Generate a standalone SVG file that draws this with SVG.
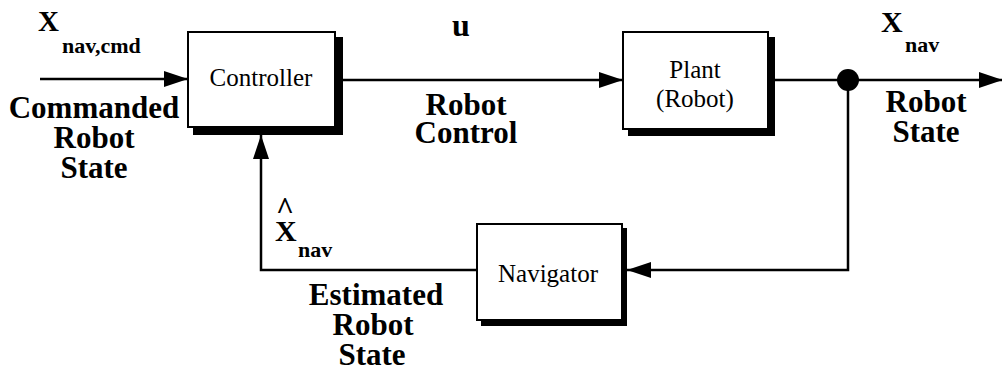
<svg xmlns="http://www.w3.org/2000/svg" width="1002" height="374" viewBox="0 0 1002 374">
  <style>
    .bg { fill: #ffffff; }
    .box { fill: #ffffff; stroke: #000000; stroke-width: 2; }
    .shadow { fill: #000000; }
    .wire { fill: none; stroke: #000000; stroke-width: 2.5; }
    .node-label { font-family: "Liberation Serif", "Times New Roman", serif; font-size: 25px; fill: #000000; text-anchor: middle; }
    .signal { font-family: "Liberation Serif", "Times New Roman", serif; font-size: 31px; font-weight: bold; fill: #000000; text-anchor: middle; }
    .sym { font-family: "Liberation Serif", "Times New Roman", serif; font-weight: bold; fill: #000000; }
  </style>
  <defs>
    <marker id="arrow" markerUnits="userSpaceOnUse" markerWidth="26" markerHeight="18" refX="24" refY="8" orient="auto">
      <path d="M0,0 L24,8 L0,16 Z" fill="#000000"/>
    </marker>
  </defs>

  <rect class="bg" x="0" y="0" width="1002" height="374"/>

  <!-- connectors -->
  <g id="connectors">
    <path class="wire" d="M40,79 H188" marker-end="url(#arrow)"/>
    <path class="wire" d="M343,80 H623" marker-end="url(#arrow)"/>
    <path class="wire" d="M775,80 H1003" marker-end="url(#arrow)"/>
    <path class="wire" d="M848,80 V270 H627" marker-end="url(#arrow)"/>
    <path class="wire" d="M477,270 H261 V135" marker-end="url(#arrow)"/>
    <circle cx="848" cy="80" r="11" fill="#000000"/>
  </g>

  <!-- controller block -->
  <g id="controller">
    <rect class="shadow" x="193" y="37" width="150" height="98"/>
    <rect class="box" x="188" y="32" width="147" height="95"/>
    <text class="node-label" x="261" y="86" font-size="26">Controller</text>
  </g>

  <!-- plant block -->
  <g id="plant">
    <rect class="shadow" x="628" y="37" width="147" height="99"/>
    <rect class="box" x="623" y="32" width="145" height="97"/>
    <text class="node-label" x="695" y="78" font-size="24">Plant</text>
    <text class="node-label" x="695" y="107" font-size="24">(Robot)</text>
  </g>

  <!-- navigator block -->
  <g id="navigator">
    <rect class="shadow" x="481" y="228" width="146" height="98"/>
    <rect class="box" x="477" y="224" width="145" height="96"/>
    <text class="node-label" x="548" y="282">Navigator</text>
  </g>

  <!-- signal symbols -->
  <g id="symbols">
    <text class="sym" x="38" y="31" font-size="29">X</text>
    <text class="sym" x="62" y="53" font-size="22">nav,cmd</text>
    <text class="sym" x="452" y="36" font-size="32">u</text>
    <text class="sym" x="881" y="32" font-size="30">X</text>
    <text class="sym" x="905" y="52" font-size="22">nav</text>
    <text class="sym" x="276" y="219" font-size="31">^</text>
    <text class="sym" x="275" y="241" font-size="30">X</text>
    <text class="sym" x="298" y="257" font-size="22">nav</text>
  </g>

  <!-- signal descriptions -->
  <g id="labels">
    <text class="signal" x="94" y="118">Commanded</text>
    <text class="signal" x="94" y="148">Robot</text>
    <text class="signal" x="94" y="178">State</text>
    <text class="signal" x="466" y="115">Robot</text>
    <text class="signal" x="466" y="143">Control</text>
    <text class="signal" x="926" y="112">Robot</text>
    <text class="signal" x="926" y="142">State</text>
    <text class="signal" x="376" y="305">Estimated</text>
    <text class="signal" x="373" y="335">Robot</text>
    <text class="signal" x="372" y="365">State</text>
  </g>
</svg>
